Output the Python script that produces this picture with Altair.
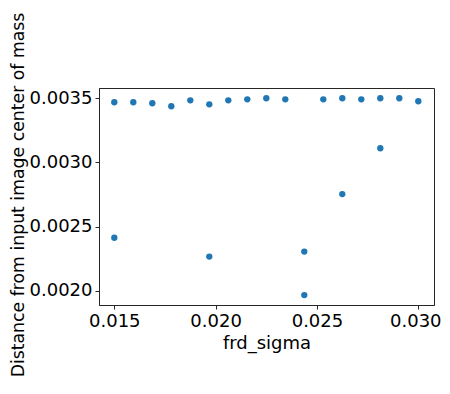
import altair as alt
import pandas as pd

frd_sigma = [0.015, 0.0159375, 0.016875, 0.0178125, 0.01875, 0.0196875, 0.020625,
             0.0215625, 0.0225, 0.0234375, 0.0253125, 0.02625, 0.0271875,
             0.028125, 0.0290625, 0.03,
             0.015, 0.0196875, 0.024375, 0.024375, 0.02625, 0.028125]
distance = [0.003469, 0.003469, 0.003461, 0.003438, 0.003484, 0.003453, 0.003484,
            0.003492, 0.003500, 0.003492, 0.003492, 0.003500, 0.003492,
            0.003500, 0.003500, 0.003477,
            0.002414, 0.002267, 0.002306, 0.001967, 0.002754, 0.003111]

df = pd.DataFrame({"frd_sigma": frd_sigma, "dist": distance})

font = "DejaVu Sans"
chart = alt.Chart(df).mark_circle(size=40, color="#1f77b4", opacity=1).encode(
    x=alt.X("frd_sigma:Q", title="frd_sigma",
            scale=alt.Scale(domain=[0.014245, 0.030775], nice=False, zero=False),
            axis=alt.Axis(values=[0.015, 0.020, 0.025, 0.030], format=".3f",
                          labelOffset=alt.condition("datum.value > 0.0299",
                                                    alt.value(-3), alt.value(0)))),
    y=alt.Y("dist:Q", title="Distance from input image center of mass",
            scale=alt.Scale(domain=[0.00189, 0.00358], nice=False, zero=False),
            axis=alt.Axis(values=[0.0020, 0.0025, 0.0030, 0.0035], format=".4f",
                          titleFontSize=17.3, titleBaseline="alphabetic",
                          titleX=-75.5, titleY=106.5)),
).properties(
    width=335, height=217,
    autosize=alt.AutoSizeParams(type="none"),
    padding={"left": 91, "top": 80, "right": 8, "bottom": 75},
).configure_axis(
    grid=False,
    domainColor="#262626", tickColor="#262626",
    tickSize=4, labelPadding=3,
    labelFont=font, labelFontSize=18, labelColor="black",
    titleFont=font, titleFontSize=18, titleColor="black", titleFontWeight="normal",
).configure_view(
    stroke="#262626", strokeWidth=1
)

chart.save("out.html", embed_options={"renderer": "svg", "actions": False})
